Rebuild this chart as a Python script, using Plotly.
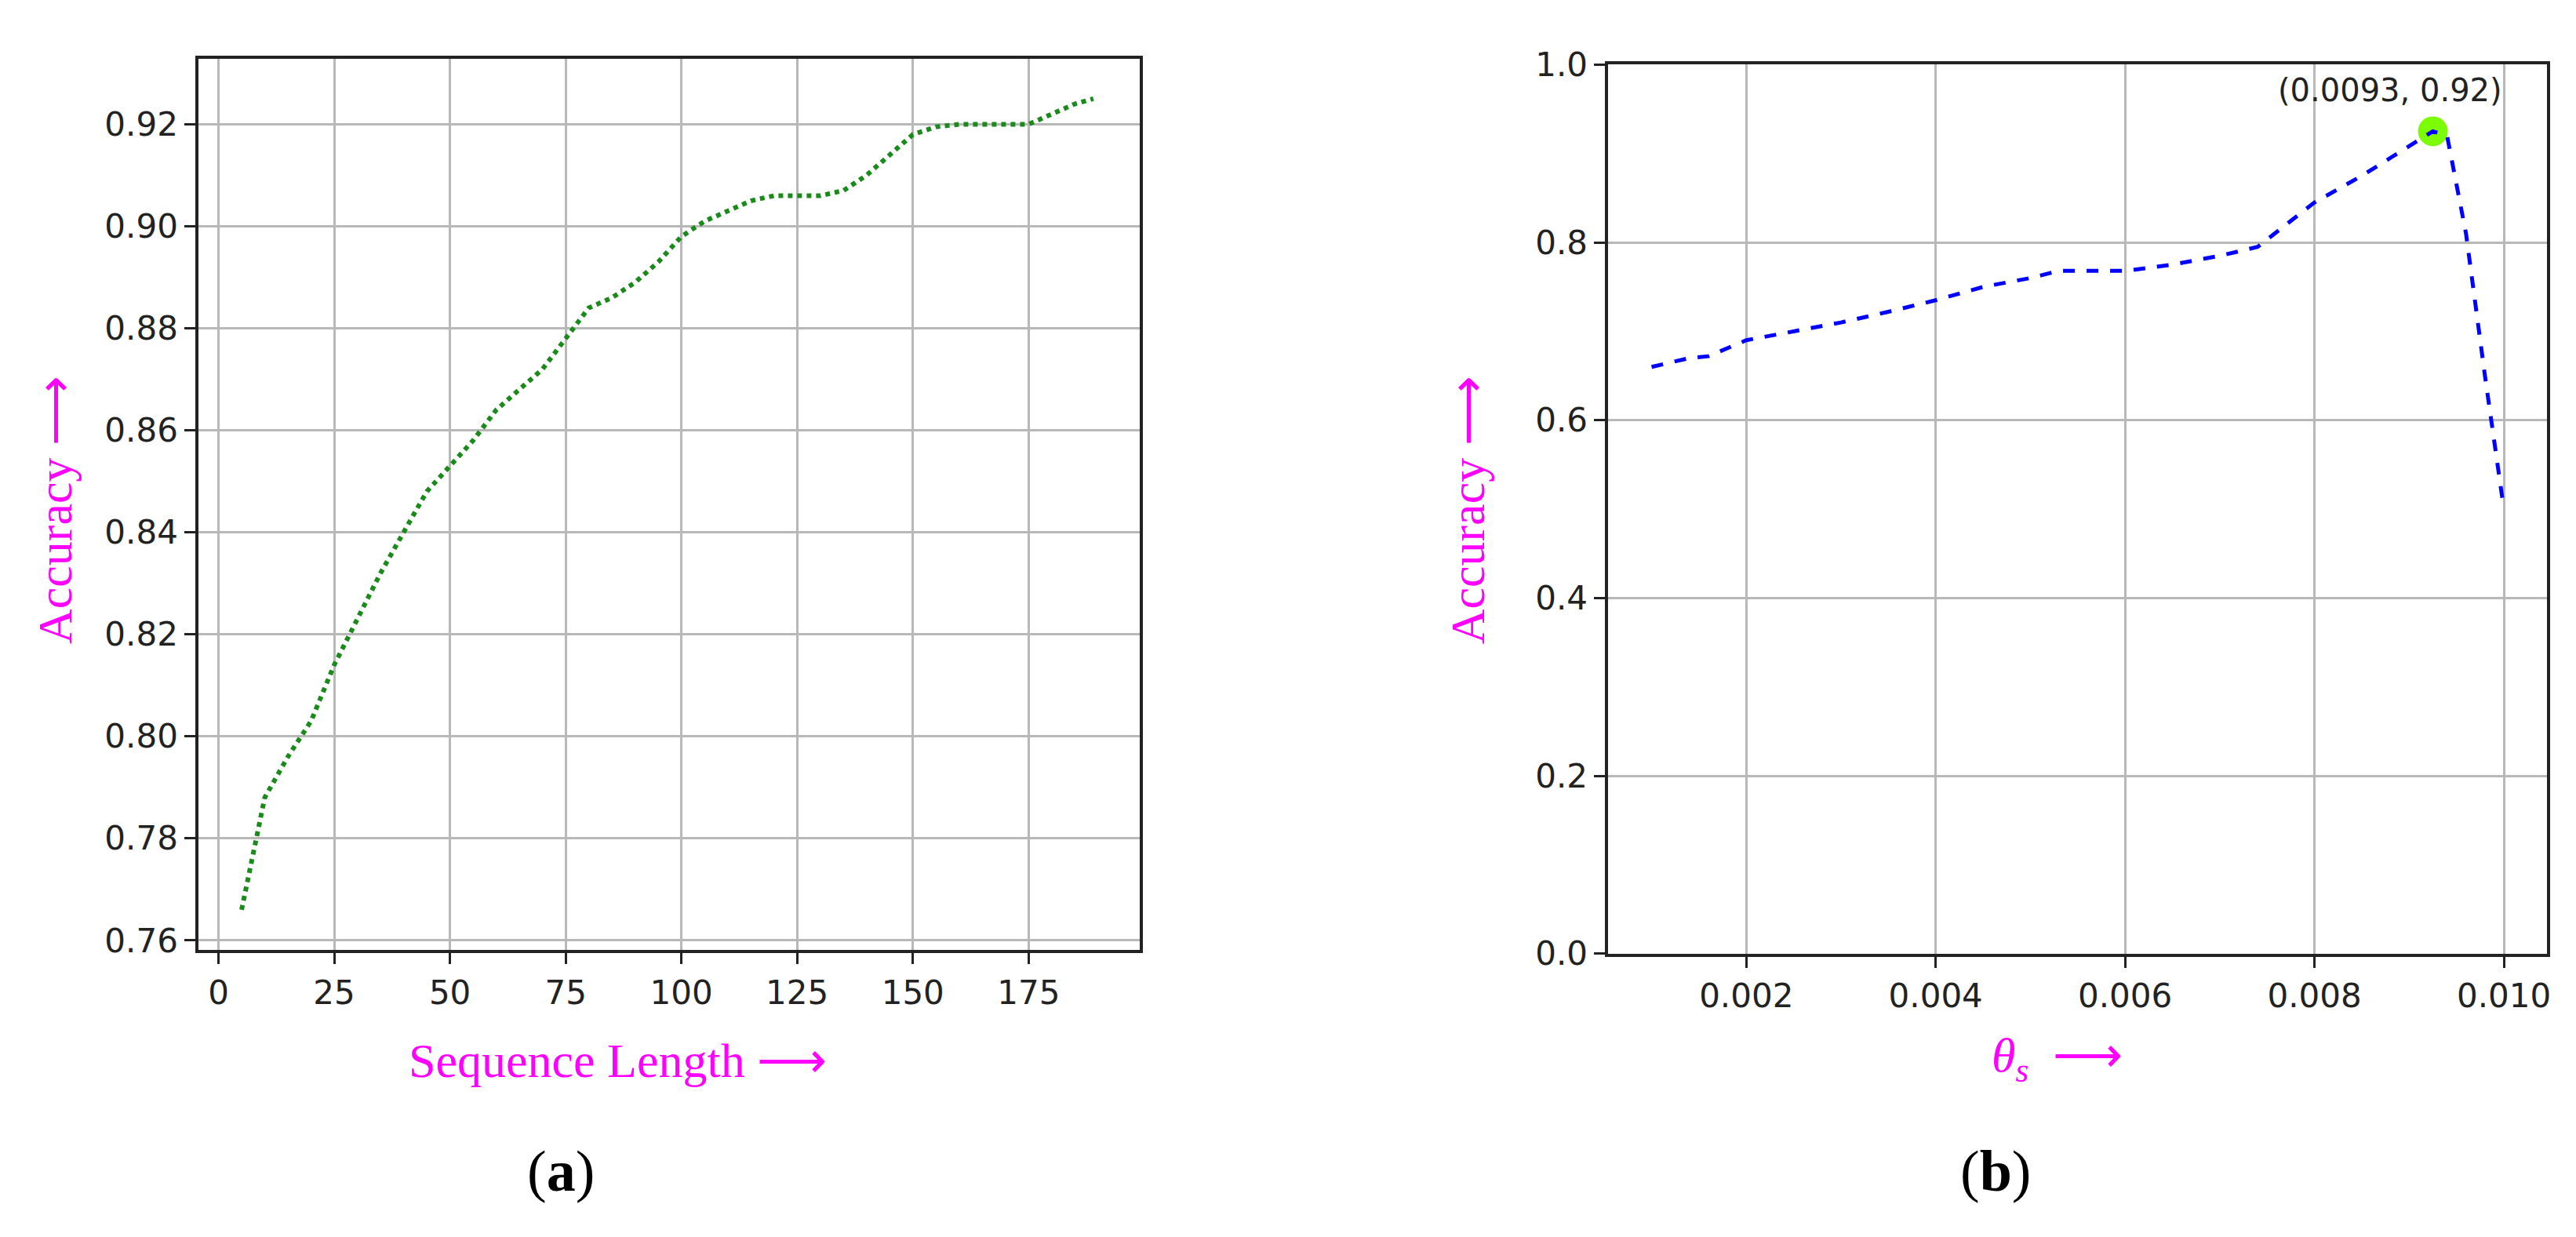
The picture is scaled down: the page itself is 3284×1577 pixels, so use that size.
import plotly.graph_objects as go

seq_len = [5, 8, 10, 15, 20, 25, 30, 35, 40, 45, 50, 55, 60, 65, 70, 75, 80, 85, 90, 95,
           100, 105, 110, 115, 120, 125, 130, 135, 140, 145, 150, 155, 160, 165, 170, 175,
           180, 185, 189]
acc_a = [0.766, 0.779, 0.788, 0.796, 0.803, 0.814, 0.823, 0.832, 0.840, 0.848, 0.853, 0.858,
         0.864, 0.868, 0.872, 0.878, 0.884, 0.886, 0.889, 0.893, 0.898, 0.901, 0.903, 0.905,
         0.906, 0.906, 0.906, 0.907, 0.910, 0.914, 0.918, 0.9195, 0.920, 0.920, 0.920, 0.920,
         0.922, 0.924, 0.925]

theta = [0.0010, 0.0014, 0.0016, 0.0020, 0.0025, 0.0030, 0.0035, 0.0040, 0.0045, 0.0050,
         0.0053, 0.0060, 0.0065, 0.0070, 0.0074, 0.0078, 0.0080, 0.0085, 0.0090, 0.00925,
         0.0094, 0.0096, 0.0098, 0.0100]
acc_b = [0.660, 0.670, 0.672, 0.690, 0.700, 0.710, 0.722, 0.735, 0.750, 0.760, 0.768, 0.768,
         0.775, 0.785, 0.795, 0.828, 0.845, 0.875, 0.908, 0.925, 0.920, 0.810, 0.650, 0.500]

best_x = [0.00925]
best_y = [0.925]
best_label = "(0.0093, 0.92)"

W, H = 3284, 1577
fig = go.Figure()
fig.add_trace(go.Scatter(x=seq_len, y=acc_a, mode="lines", xaxis="x", yaxis="y",
                         line=dict(color="#1a8a1a", width=6, dash="dot"), showlegend=False))
fig.add_trace(go.Scatter(x=best_x, y=best_y, mode="markers", xaxis="x2", yaxis="y2",
                         marker=dict(color="#7cfc00", size=38), showlegend=False))
fig.add_trace(go.Scatter(x=theta, y=acc_b, mode="lines", xaxis="x2", yaxis="y2",
                         line=dict(color="#0000ff", width=5, dash="dash"), showlegend=False))

ax = dict(showline=True, linecolor="#222", linewidth=4, mirror=True, showgrid=True,
          gridcolor="#b8b8b8", gridwidth=3, ticks="outside", ticklen=14, tickwidth=3,
          tickcolor="#222", zeroline=False,
          tickfont=dict(family="DejaVu Sans", size=42, color="#222"))
fig.update_layout(
    width=W, height=H, margin=dict(l=0, r=0, t=0, b=0),
    paper_bgcolor="white", plot_bgcolor="white",
    xaxis=dict(ax, domain=[0.0748, 0.4406], range=[-4.28, 198.97], tickvals=[0, 25, 50, 75, 100, 125, 150, 175]),
    yaxis=dict(ax, domain=[0.2283, 0.9717], range=[0.7581, 0.9328],
               tickvals=[0.76, 0.78, 0.80, 0.82, 0.84, 0.86, 0.88, 0.90, 0.92], tickformat=".2f"),
    xaxis2=dict(ax, domain=[0.6229, 0.9878], range=[0.000544, 0.010455],
                tickvals=[0.002, 0.004, 0.006, 0.008, 0.010], tickformat=".3f", anchor="y2"),
    yaxis2=dict(ax, domain=[0.2253, 0.967], range=[0, 1],
                tickvals=[0, 0.2, 0.4, 0.6, 0.8, 1.0], tickformat=".1f", anchor="x2"),
)

mag = "#ff00ff"
serif = "Liberation Serif"
def ann(text, x, y, size, color="black", angle=0, family=serif):
    fig.add_annotation(text=text, x=x / W, y=1 - y / H, xref="paper", yref="paper",
                       showarrow=False, textangle=angle, xanchor="center", yanchor="middle",
                       font=dict(family=family, size=size, color=color))

ann("Sequence Length ⟶", 781, 1362, 62, mag)
ann("Accuracy ⟶", 62, 638, 62, mag, angle=-90)
ann("Accuracy ⟶", 1866, 638, 62, mag, angle=-90)
ann("<i>θ<sub>s</sub></i>  ⟶", 2618, 1360, 62, mag)
ann("(<b>a</b>)", 708, 1508, 74)
ann("(<b>b</b>)", 2540, 1508, 74)
fig.add_annotation(text=best_label, x=best_x[0], y=best_y[0], xref="x2", yref="y2",
                   showarrow=False, yshift=52, xshift=-55,
                   font=dict(family="DejaVu Sans", size=40, color="#222"))

fig.write_html("out.html")
